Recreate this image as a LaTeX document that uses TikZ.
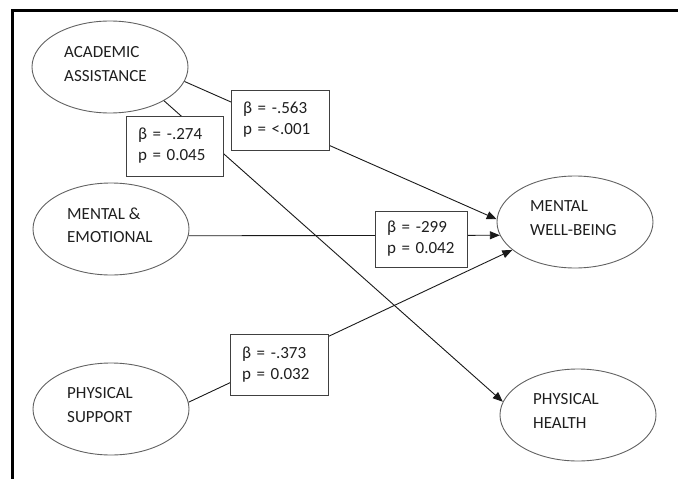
\documentclass[tikz,border=0pt]{standalone}
\usepackage{fontspec}
\setmainfont{Carlito}
\usetikzlibrary{arrows.meta,shapes.geometric}
\begin{document}
\begin{tikzpicture}[x=1pt,y=-1pt,
  oval/.style={ellipse,draw=black!62,line width=0.9pt,minimum width=156pt,minimum height=92pt,inner sep=0pt},
  ovaltext/.style={anchor=west,inner sep=0pt,align=left,text=black!88,font=\fontsize{17}{23.5}\selectfont},
  pbox/.style={draw=black!75,line width=0.9pt,fill=white,minimum height=60pt,inner xsep=12pt,align=left,text=black!88,font=\fontsize{17}{21}\selectfont},
  conn/.style={draw=black!90,line width=0.9pt},
  arr/.style={conn,-{Triangle[length=10pt,width=8pt]}}]
\useasboundingbox (0,0) rectangle (678,479);
% frame
\draw[line width=3pt] (12.5,479) -- (12.5,10.8) -- (678,10.8);
% ellipses
\node[oval] (aa) at (110,67) {};
\node[oval] (me) at (111,229) {};
\node[oval] (ps) at (111,409) {};
\node[oval] (mwb) at (575,222) {};
\node[oval] (ph) at (578,415) {};
% texts
\node[ovaltext] (aat) at (64,64) {ACADEMIC\\ASSISTANCE};
\node[ovaltext] (met) at (67,225) {MENTAL \&\\EMOTIONAL};
\node[ovaltext] (pst) at (67,405) {PHYSICAL\\SUPPORT};
\node[ovaltext] (mwbt) at (530,218) {MENTAL\\WELL-BEING};
\node[ovaltext] (pht) at (533,411) {PHYSICAL\\HEALTH};
% connectors
\draw[arr] (aa.-11) -- (mwb.178);
\draw[arr] (aa.-32) -- (ph.170);
\draw[arr] (me.-5) -- (mwb.190.5);
\draw[arr] (ps.5) -- (mwb.204.3);
% coefficient boxes
\node[pbox,text width=74pt] (b1) at (280,120) {β = -.563\\p = <.001};
\node[pbox,text width=73pt] (b2) at (174.5,146) {β = -.274\\p = 0.045};
\node[pbox,text width=68pt,minimum height=56pt] (b3) at (421,239) {β = -299\\p = 0.042};
\node[pbox,text width=74pt,minimum height=61pt] (b4) at (279,364.5) {β = -.373\\p = 0.032};
\end{tikzpicture}
\end{document}
